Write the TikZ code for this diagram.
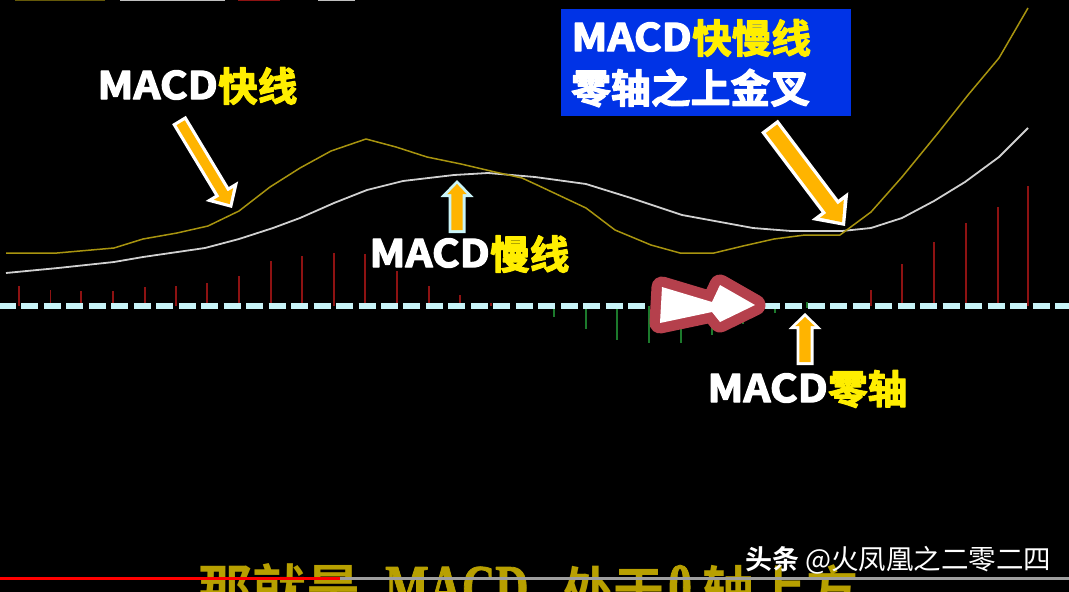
\documentclass[tikz,border=0pt]{standalone}
\usepackage{fontspec}
\setmainfont{Noto Sans CJK SC}
\newfontfamily\heavyfont[FakeBold=2.8]{Noto Sans CJK SC Bold}
\newfontfamily\heavylatin[FakeBold=3.4,FakeStretch=1.11]{Noto Sans CJK SC Bold}
\newfontfamily\boldfont{Noto Sans CJK SC Bold}
\newfontfamily\serifbold[FakeBold=1.2,FakeStretch=0.72]{Liberation Serif Bold}
\definecolor{goldline}{HTML}{A8940F}
\definecolor{greyline}{HTML}{D0D0D0}
\definecolor{barred}{HTML}{8E1212}
\definecolor{bargreen}{HTML}{1C7A2C}
\definecolor{zeroline}{HTML}{C9F4F8}
\definecolor{pointer}{HTML}{FFB400}
\definecolor{boxblue}{HTML}{0033E6}
\definecolor{marker}{HTML}{B5404C}
\definecolor{texty}{HTML}{FFEE00}
\definecolor{subtitle}{HTML}{B8A000}
\tikzset{
  bigtext/.style={inner sep=0pt},
  latinpart/.style={bigtext,text=white,anchor=east,font=\heavylatin\fontsize{38}{38}\selectfont},
  cjkpart/.style={bigtext,text=texty,anchor=west,font=\heavyfont\fontsize{39.6}{39.6}\selectfont},
  whitecjk/.style={bigtext,text=white,anchor=west,font=\heavyfont\fontsize{39.8}{39.8}\selectfont},
  redbar/.style={barred,line width=1.5},
  greenbar/.style={bargreen,line width=1.3},
}
% start x,y ; tip x,y ; shaft half ; head half ; head length ; outline colour ; outline width
\newcommand{\gArrow}[9]{%
  \pgfmathsetmacro{\gL}{veclen(#3-#1,#4-#2)}%
  \pgfmathsetmacro{\gA}{atan2(-(#4-#2),#3-#1)}%
  \begin{scope}[shift={(#1,#2)},rotate=\gA]
    \fill[#8] (0,-#5) -- (\gL-#7,-#5) -- (\gL-#7,-#6) -- (\gL,0) -- (\gL-#7,#6) -- (\gL-#7,#5) -- (0,#5) -- cycle;
    \pgfmathsetmacro{\gs}{#5-#9}%
    \pgfmathsetmacro{\gh}{#6-2.4*#9}%
    \pgfmathsetmacro{\gb}{\gL-#7+#9}%
    \pgfmathsetmacro{\gt}{\gL-1.4*#9}%
    \fill[pointer] (#9,-\gs) -- (\gb,-\gs) -- (\gb,-\gh) -- (\gt,0) -- (\gb,\gh) -- (\gb,\gs) -- (#9,\gs) -- cycle;
  \end{scope}}
\begin{document}
\begin{tikzpicture}[x=1pt,y=-1pt,line join=round]
\useasboundingbox (0,0) rectangle (1069,592);
\clip (0,0) rectangle (1069,592);
\fill[black] (0,0) rectangle (1069,592);

% clipped status line at the very top
\draw[goldline!60!black,line width=1.5] (15,0.5) -- (105,0.5);
\draw[gray!50,line width=1.5] (120,0.5) -- (225,0.5);
\draw[barred,line width=1.5] (238,0.5) -- (280,0.5);
\draw[gray!50,line width=1.5] (318,0.5) -- (355,0.5);

% histogram
\foreach \x/\y in {19/286,50.5/290,81/291,113/291,145/287,176/286,207/283,239/276,271/261,302/256,334/253,365/254,397/271,429/286,460/295,491/303,871/290,902/264,934/242,966/223,998/207,1028/186}
  \draw[redbar] (\x,306) -- (\x,\y);
\foreach \x/\y in {554/317,586/329,617/340,649/343,681/343,712/335,743/324,775/313,807/308}
  \draw[greenbar] (\x,306) -- (\x,\y);
\draw[greenbar] (807,306) -- (807,302);

% zero axis
\draw[zeroline,line width=5.6,dash pattern=on 17 off 5.47] (-1,305.8) -- (1069,305.8);

% lines
\draw[greyline,line width=1.8] (6,273) -- (58,268) -- (114,262) -- (143,257) -- (205,248) -- (239,239) -- (273,228) -- (300,218) -- (334,203) -- (367,190) -- (403,181) -- (454,175) -- (488,173) -- (535,177) -- (586,184) -- (631,198) -- (682,215) -- (753,228) -- (791,231) -- (842,231) -- (871,228) -- (902,218) -- (934,201) -- (965,182) -- (999,157) -- (1028,128);
\draw[goldline,line width=1.5] (6,253) -- (57,253) -- (114,248) -- (143,239) -- (177,233) -- (208,226) -- (239,211) -- (270,187) -- (300,168) -- (331,151) -- (366,139) -- (396,147) -- (427,157) -- (461,164) -- (495,172) -- (522,178) -- (535,184) -- (586,208) -- (615,230) -- (651,245) -- (680,253) -- (714,253) -- (743,246) -- (774,239) -- (805,235) -- (840,235) -- (871,212) -- (902,177) -- (938,133) -- (968,95) -- (999,58) -- (1028,8);

% blue box
\node[fill=boxblue,inner sep=0pt,minimum width=290,minimum height=107,anchor=north west] (box) at (561,9) {};

% pointer arrows
\gArrow{179}{120}{232}{208}{8}{19}{19.6}{white}{3.2}
\gArrow{457}{233}{457}{180}{8.5}{16.5}{17}{zeroline}{2.8}
\gArrow{805}{365}{805}{313}{8.5}{16.5}{16}{white}{2.8}
\gArrow{769.5}{126}{845}{226}{10.5}{23}{25}{white}{3.4}

% big red-outlined arrow
\draw[marker,line width=21,fill=marker] (662,287) -- (712,302) -- (720,285) -- (755,305) -- (720,322) -- (712,312) -- (660,323) -- cycle;
\fill[white] (662,287) -- (712,302) -- (720,285) -- (755,305) -- (720,322) -- (712,312) -- (660,323) -- cycle;

% labels
\node[latinpart] (m1) at (218,85) {MACD};
\node[cjkpart] (c1) at (218,86) {快线};
\node[latinpart] (m2) at (490,253) {MACD};
\node[cjkpart] (c2) at (490,254) {慢线};
\node[latinpart] (m3) at (828,388) {MACD};
\node[cjkpart] (c3) at (828,389) {零轴};
\node[latinpart] (m4) at (692,37) {MACD};
\node[cjkpart] (c4) at (692,38) {快慢线};
\node[whitecjk] (c5) at (571,88) {零轴之上金叉};

% subtitle clipped by the bottom edge
\node[anchor=base west,inner sep=0pt,text=subtitle] (sub) at (198,609)
  {\makebox[187pt][l]{\boldfont\fontsize{54}{54}\selectfont 那就是}%
   \makebox[177pt][l]{\serifbold\fontsize{64}{64}\selectfont MACD}%
   \makebox[106pt][l]{\boldfont\fontsize{51}{51}\selectfont 处于}%
   \makebox[34pt][l]{\serifbold\fontsize{66}{66}\selectfont 0}%
   {\boldfont\fontsize{52}{52}\selectfont 轴上方}};

% progress bar
\fill[gray!75] (340,576.5) rectangle (1069,579.5);
\fill[red] (0,576.5) rectangle (340,579.5);

% watermark
\node[anchor=west,inner sep=0pt,text=white,font=\boldfont\fontsize{27}{27}\selectfont] (w1) at (745,559) {头条};
\node[anchor=west,inner sep=0pt,text=white,font=\fontsize{27.5}{27.5}\selectfont] (w2) at (805,560) {@火凤凰之二零二四};
\end{tikzpicture}
\end{document}
